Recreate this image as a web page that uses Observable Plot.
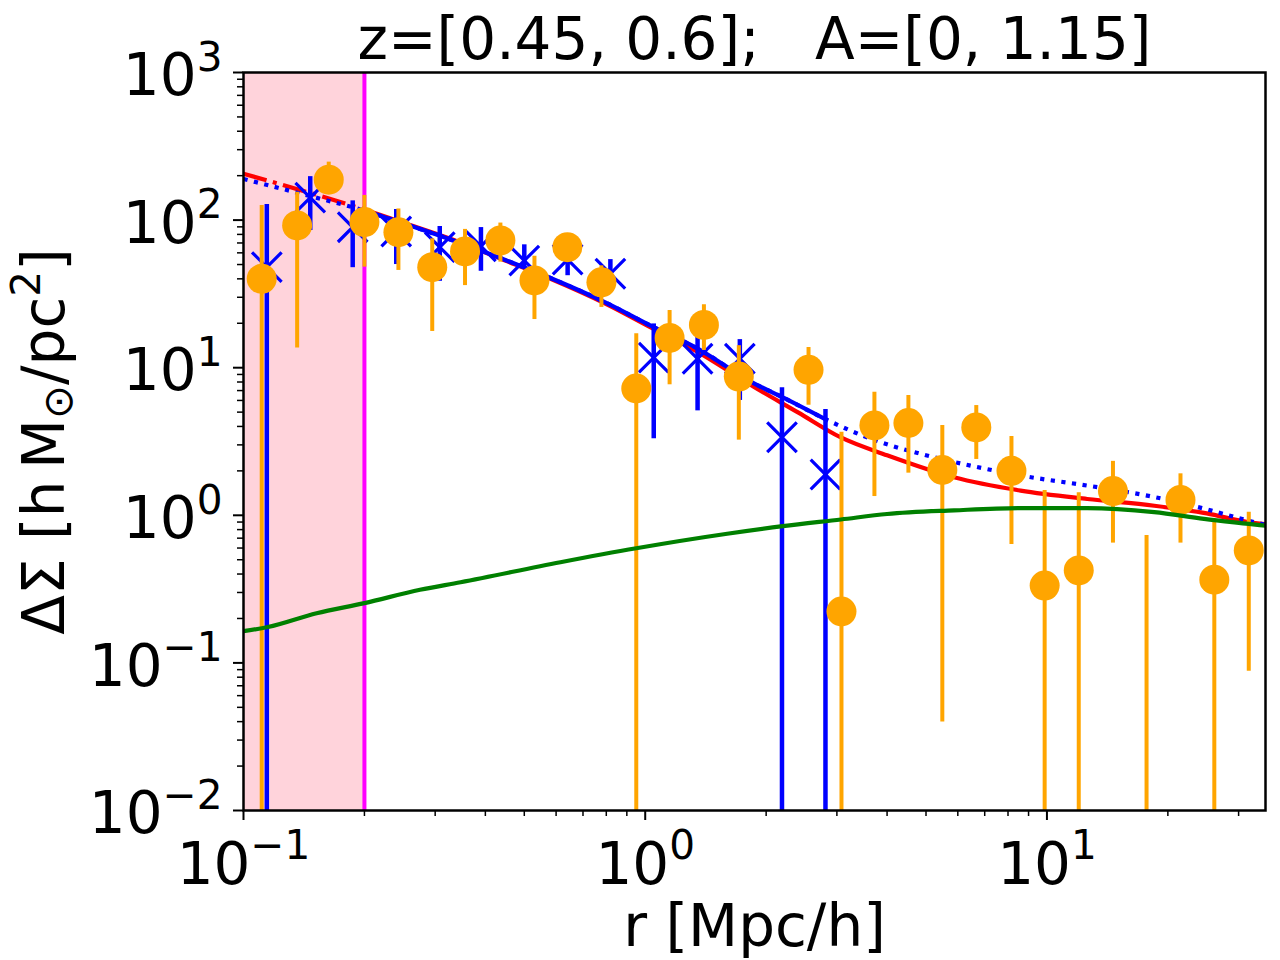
<!DOCTYPE html>
<html>
<head>
<meta charset="utf-8">
<script src="https://cdn.jsdelivr.net/npm/d3@7"></script>
<script src="https://cdn.jsdelivr.net/npm/@observablehq/plot@0.6"></script>
<style>
  html, body { margin: 0; padding: 0; background: #fff; }
  svg { display: block; }
</style>
</head>
<body>
<div id="chart"></div>
<script>
// ---------- text ----------
const titleText = "z=[0.45, 0.6];   A=[0, 1.15]";
const xLabelText = "r [Mpc/h]";
const yLabelParts = ["ΔΣ [h\u2009M", "\u2299", "/pc", "2", "]"]; // main, subscript, main, superscript, main

// ---------- axes ----------
const xDomain = [0.1, 35];
const yDomain = [0.01, 1000];
const xMajor = [0.1, 1, 10];
const yMajor = [0.01, 0.1, 1, 10, 100, 1000];

// shaded (excluded) region, scale cut and blue fit range, in r [Mpc/h]
const excludedRange = [0.1, 0.2];
const scaleCut = [0.2];
const blueFitRange = [0.2, 2.8];

// ---------- orange data points (null lo = error bar runs below the axis; null ΔΣ = point off-scale) ----------
const orangeR  = [0.111, 0.136, 0.163, 0.2, 0.243, 0.295, 0.356, 0.436, 0.53, 0.64, 0.778, 0.95, 1.15, 1.40, 1.71, 2.55, 3.08, 3.72, 4.52, 5.49, 6.67, 8.16, 9.87, 12.0, 14.6, 17.7, 21.5, 26.1, 31.8];
const orangeDS = [40.0, 92, 188, 97, 82.8, 48, 61.3, 72.8, 39, 65.6, 37.9, 7.23, 15.9, 19.5, 8.71, 9.68, 0.223, 4.06, 4.22, 2.03, 3.94, 2.0, 0.334, 0.423, 1.46, null, 1.27, 0.366, 0.578];
const orangeLo = [null, 13.6, 151, 48, 45.6, 17.6, 36, 51.9, 21.2, 52, 25.6, null, 7.66, 13.1, 3.23, 5.57, null, 1.34, 1.93, 0.0397, 2.39, 0.634, null, null, 0.648, null, 0.648, null, 0.0879];
const orangeHi = [125.6, 154.6, 247, 147, 119, 74.7, 86.5, 95.5, 56.9, 80, 49, 17.0, 24.4, 26.7, 14.1, 13.7, 3.66, 6.82, 6.48, 4.06, 5.54, 3.42, 1.47, 1.42, 2.32, 0.73, 1.91, 0.922, 1.05];

// ---------- blue data points ----------
const blueR  = [0.1143, 0.1466, 0.187, 0.240, 0.308, 0.39, 0.5, 0.641, 0.819, 1.05, 1.35, 1.72, 2.19, 2.81];
const blueDS = [48, 142, 89.5, 83.7, 65.6, 66.5, 53.2, 54.1, 43.3, 11.7, 11.5, 11.5, 3.38, 1.89];
const blueLo = [null, 85, 47.6, 50, 38.5, 45, 47, 42, 35, 3.3, 5.1, 6.0, null, null];
const blueHi = [127.6, 197, 135, 118, 90.5, 89, 68, 62, 54, 19.8, 17, 15.5, 7.32, 5.2];

// ---------- model curves ----------
const redR  = [0.1, 0.15, 0.2, 0.25, 0.327, 0.45, 0.581, 0.8, 1.05, 1.33, 1.87, 2.4, 3.06, 4.0, 5.87, 8.6, 12.6, 18.5, 25, 31.8, 35];
const redDS = [206, 150, 118, 96, 74.7, 53, 40.0, 27, 18.3, 13.1, 7.38, 4.98, 3.38, 2.55, 1.81, 1.47, 1.29, 1.16, 1.03, 0.897, 0.87];

const blueModelR  = [0.1, 0.15, 0.2, 0.25, 0.327, 0.45, 0.581, 0.8, 1.05, 1.33, 1.87, 2.2, 2.8, 3.64, 4.84, 6.45, 8.6, 12.6, 18.5, 24.6, 31.6, 35];
const blueModelDS = [190, 143, 116, 95, 74, 53.5, 40.5, 27.5, 18.8, 13.8, 7.8, 6.3, 4.5, 3.3, 2.61, 2.17, 1.86, 1.59, 1.33, 1.11, 0.922, 0.86];

const greenR  = [0.1, 0.115, 0.152, 0.2, 0.275, 0.347, 0.615, 0.95, 1.6, 2.2, 3.07, 4.0, 5.87, 8.6, 12.6, 18.5, 24.6, 31.8, 35];
const greenDS = [0.164, 0.175, 0.217, 0.254, 0.313, 0.352, 0.481, 0.598, 0.75, 0.844, 0.937, 1.02, 1.08, 1.12, 1.12, 1.05, 0.946, 0.875, 0.85];

// ---------- build tables ----------
const below = yDomain[0] * 0.1; // error bar continuing below the plotted range
const orange = orangeR.map((r, i) => ({r, ds: orangeDS[i], lo: orangeLo[i] ?? below, hi: orangeHi[i]}));
const blue = blueR.map((r, i) => ({r, ds: blueDS[i], lo: blueLo[i] ?? below, hi: blueHi[i]}));
const redModel = redR.map((r, i) => ({r, ds: redDS[i]}));
const blueModel = blueModelR.map((r, i) => ({r, ds: blueModelDS[i]}));
const greenModel = greenR.map((r, i) => ({r, ds: greenDS[i]}));

const minorTicks = (e0, e1) => {
  const out = [];
  for (let e = e0; e < e1; e++) for (let m = 2; m < 10; m++) out.push(+(m * 10 ** e).toPrecision(6));
  return out;
};
const xMinor = minorTicks(-1, 2).filter(v => v <= xDomain[1]);
const yMinor = minorTicks(-2, 3);

const FS = 58;
const pow10 = d => "10^" + Math.round(Math.log10(d));
const lineW = 4.2;
const Y_PLACEHOLDER = "__YLABEL__";

const chart = Plot.plot({
  width: 1280,
  height: 960,
  marginLeft: 243,
  marginRight: 15,
  marginTop: 72,
  marginBottom: 150,
  style: {fontFamily: "DejaVu Sans", fontSize: FS + "px", background: "white", color: "black"},
  x: {type: "log", domain: xDomain},
  y: {type: "log", domain: yDomain},
  marks: [
    Plot.rect([excludedRange], {x1: d => d[0], x2: d => d[1], fill: "#ffd3db"}),
    Plot.ruleX(scaleCut, {stroke: "#ff00ff", strokeWidth: 4}),
    // red model
    Plot.line(redModel.filter(d => d.r <= scaleCut[0]), {x: "r", y: "ds", stroke: "red", strokeWidth: lineW, strokeDasharray: "24,6.5,4,6.5", strokeLinecap: "butt", curve: "monotone-x", clip: true}),
    Plot.line(redModel.filter(d => d.r >= scaleCut[0]), {x: "r", y: "ds", stroke: "red", strokeWidth: lineW, curve: "monotone-x", clip: true}),
    // blue model
    Plot.line(blueModel, {x: "r", y: "ds", stroke: "blue", strokeWidth: lineW, strokeDasharray: "4.2,6.5", strokeLinecap: "butt", curve: "monotone-x", clip: true}),
    Plot.line(blueModel.filter(d => d.r >= blueFitRange[0] && d.r <= blueFitRange[1]), {x: "r", y: "ds", stroke: "blue", strokeWidth: lineW, curve: "monotone-x", clip: true}),
    // blue data
    Plot.ruleX(blue, {x: "r", y1: "lo", y2: "hi", stroke: "blue", strokeWidth: 4.5, clip: true}),
    Plot.dot(blue, {x: "r", y: "ds", symbol: "times", r: 13.5, stroke: "blue", strokeWidth: 3.2, clip: true}),
    // orange data
    Plot.ruleX(orange, {x: "r", y1: "lo", y2: "hi", stroke: "orange", strokeWidth: 4, clip: true}),
    Plot.dot(orange, {x: "r", y: "ds", r: 15, fill: "orange", stroke: null, clip: true}),
    // green model
    Plot.line(greenModel, {x: "r", y: "ds", stroke: "green", strokeWidth: lineW, curve: "monotone-x", clip: true}),
    // axes
    Plot.axisX(xMinor, {tickSize: 6, strokeWidth: 1.5, tickFormat: () => "", label: null}),
    Plot.axisX(xMajor, {tickSize: 10, tickPadding: 22, strokeWidth: 2, fontSize: FS, tickFormat: pow10, label: null}),
    Plot.axisY(yMinor, {tickSize: 6, strokeWidth: 1.5, tickFormat: () => "", label: null}),
    Plot.axisY(yMajor, {tickSize: 10, tickPadding: 11, strokeWidth: 2, fontSize: FS, tickFormat: pow10, label: null}),
    Plot.frame({stroke: "black", strokeWidth: 2.5}),
    // texts
    Plot.text([titleText], {text: d => d, frameAnchor: "top", textAnchor: "middle", lineAnchor: "middle", dy: -32, fontSize: FS}),
    Plot.text([xLabelText], {text: d => d, frameAnchor: "bottom", textAnchor: "middle", lineAnchor: "middle", dy: 117, fontSize: FS}),
    Plot.text([Y_PLACEHOLDER], {text: d => d, frameAnchor: "left", textAnchor: "middle", lineAnchor: "middle", rotate: -90, dx: -198, fontSize: FS})
  ]
});

document.getElementById("chart").appendChild(chart);

// ---------- mathtext-like superscripts ----------
const svg = d3.select(chart);
svg.selectAll('g[aria-label="x-axis tick label"] text, g[aria-label="y-axis tick label"] text').each(function () {
  const s = this.textContent;
  if (!s.includes("^")) return;
  const [base, exp] = s.split("^");
  const t = d3.select(this);
  t.text(null);
  t.append("tspan").text(base);
  t.append("tspan").attr("font-size", FS * 0.7).attr("dy", -0.42 * FS).text(exp.replace("-", "\u2212"));
});
svg.selectAll('g[aria-label="y-axis tick label"] text').attr("dy", "0.07em");

// y label with subscript ⊙ and superscript 2
svg.selectAll("text").filter(function () { return this.textContent === Y_PLACEHOLDER; }).each(function () {
  const t = d3.select(this);
  t.attr("text-anchor", "middle");
  t.text(null);
  t.append("tspan").text(yLabelParts[0]);
  t.append("tspan").attr("font-size", FS * 0.7).attr("dy", 0.14 * FS).text(yLabelParts[1]);
  t.append("tspan").attr("dy", -0.14 * FS).text(yLabelParts[2]);
  t.append("tspan").attr("font-size", FS * 0.7).attr("dy", -0.42 * FS).text(yLabelParts[3]);
  t.append("tspan").attr("dy", 0.42 * FS).text(yLabelParts[4]);
});
</script>
</body>
</html>
